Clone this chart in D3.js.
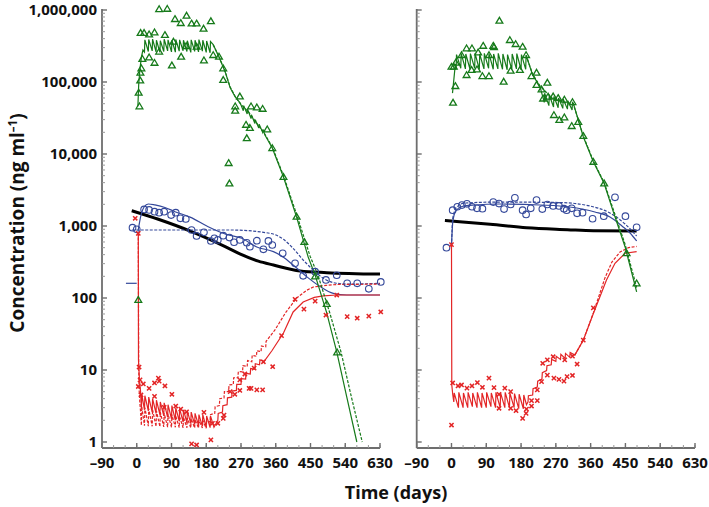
<!DOCTYPE html>
<html>
<head>
<meta charset="utf-8">
<title>Concentration vs time</title>
<script src="https://d3js.org/d3.v7.min.js"></script>
<style>
  body { margin:0; background:#fff; }
  svg text { font-family: "Open Sans", sans-serif; font-weight:700; fill:#111; }
  .axis-line { stroke:#6e6e6e; stroke-width:1.8px; }
  .tick-major { stroke:#6e6e6e; stroke-width:1.4px; }
  .tick-minor { stroke:#999; stroke-width:1px; }
  .fit { fill:none; stroke-width:1.2px; }
  .fit.dash { stroke-dasharray:3,1.5; }
  .green { stroke:#167a1a; }
  .blue { stroke:#34489a; }
  .red { stroke:#e32526; }
  .black { fill:none; stroke:#000; stroke-width:3px; }
</style>
</head>
<body>
<svg id="chart" width="709" height="507"></svg>
<script>

// ---- axis settings ----
const xTicks = [-90, 0, 90, 180, 270, 360, 450, 540, 630];
const yTicks = [1, 10, 100, 1000, 10000, 100000, 1000000];

// ---- LEFT panel : observed [day, ng/ml] ----
const leftGreenObs = [[4,94],[5,71000],[7,46000],[9,105000],[9.5,135000],[12,155000],[14.5,210000],
  [10,480000],[19,480000],[32,460000],[46,490000],[73,450000],[58,1030000],[79,1040000],[99,750000],
  [114,660000],[129,835000],[142,650000],[155,650000],[173,550000],[192,700000],[32,220000],[46,185000],
  [91,170000],[115,225000],[58,265000],[174,200000],[213,225000],[224,155000],[224,107000],[95,363000],
  [128,316000],[155,309000],[198,237000],[255,46000],[255,40000],[267,63000],[296,46000],[311,44500],
  [326,42500],[283,25500],[293,23000],[285,16600],[338,22000],[351,12100],[380,4800],[414,1350],
  [434,600],[462,200],[492,83],[519,17.6],[238,7500],[240,3900]];
const leftBlueObs = [[-11,947],[0,900],[19,1700],[32,1670],[46,1580],[58,1530],[71,1580],[89,1420],
  [101,1530],[113,1280],[127,1250],[142,880],[155,727],[174,817],[192,619],[201,675],[210,640],[224,735],
  [240,690],[252,595],[267,640],[285,585],[293,515],[311,625],[328,475],[341,620],[351,545],[378,418],
  [410,303],[431,203],[462,232],[490,178],[518,207],[545,160],[571,160],[601,134],[632,167]];
const leftRedObs = [[-4,1280],[4,790],[6,11],[4,5.9],[8.5,7.3],[17,6.4],[32,5.55],[46,6.6],[56,7.7],
  [58,7.0],[73,6.0],[91,4.6],[11,4.5],[46,4.3],[71,3.03],[101,3.16],[114,2.87],[129,2.63],[174,2.58],
  [142,0.94],[155,0.91],[192,1.07],[196,1.82],[210,1.82],[226,2.37],[224,2.13],[242,5.0],[254,4.6],
  [267,7.3],[267,5.2],[280,8.8],[291,5.55],[296,5.55],[311,5.3],[326,5.3],[304,10.6],[328,13],
  [352,11.1],[375,30],[410,96],[433,70],[462,90.5],[490,58],[518,110],[545,55],[571,52.4],[601,56],[632,64]];

// ---- LEFT panel : model curves ----
const leftGreenFit = [[3,46000],[5,91000],[8,147000],[12,222000],[16,278000],
  [20,260000],[21,385000],[30,265000],[31,390000],[40,270000],[41,395000],[50,262000],[51,380000],
  [60,258000],[61,375000],[70,265000],[71,392000],[80,270000],[81,385000],[90,262000],[91,380000],
  [100,260000],[101,390000],[110,268000],[111,385000],[120,272000],[121,380000],[130,265000],[131,375000],
  [140,258000],[141,385000],[150,266000],[151,380000],[160,262000],[161,388000],[170,268000],[171,380000],
  [180,258000],[181,372000],[190,255000],[191,365000],[198,330000],
  [213,222000],[229,138000],[242,83000],[255,62000],[268,51000],
  [276,40000],[277,47000],[286,36000],[287,42000],[296,31000],[297,35000],[306,26500],[307,30000],
  [316,23000],[317,26000],[326,20000],[327,22000],
  [332,18400],[351,12100],[380,4800],[414,1330],[444,371],[462,208],[492,62],[518,17.8],[544,4.2],[570,1.0]];
const leftGreenFit2 = [[198,330000],[213,225000],[229,140000],[242,85000],[255,63000],[268,50000],
  [290,38000],[310,27000],[332,18800],[351,12500],[380,5000],[414,1450],[449,380],[469,210],[500,62],
  [529,17.8],[556,4.2],[584,1.0]];
const leftBlueFit = [[3.4,853],[11,1420],[19,1835],[30,2020],[47,1960],[73,1810],[99,1580],[138,1330],
  [185,977],[229,774],[272,675],[311,511],[354,440],[379,371],[405,287],[440,198],[475,144],[509,116],
  [544,110],[630,110]];
const leftBlueFit2 = [[-13,880],[242,880],[345,792],[380,653],[405,490],[431,337],[457,245],[483,188],
  [518,160],[552,156],[630,160]];
const leftBlueMark = [[-28,160],[0,160]];
const leftBlack = [[-13,1630],[56,1240],[142,834],[229,516],[267,410],[315,325],[354,287],[423,237],
  [492,225],[630,215]];
const leftRedFit = [[4,800],[4.5,13.8],[7,7.3],[10,4.9],
  [12,2.9],[13,4.6],[20,2.8],[21,4.4],[30,2.7],[31,4.2],[40,2.6],[41,4.0],[50,2.5],[51,3.8],
  [60,2.4],[61,3.6],[70,2.3],[71,3.5],[80,2.2],[81,3.3],[90,2.1],[91,3.2],[100,2.0],[101,3.0],
  [110,1.95],[111,2.9],[120,1.9],[121,2.8],[130,1.85],[131,2.7],[140,1.8],[141,2.6],[150,1.75],[151,2.5],
  [160,1.7],[161,2.4],[170,1.65],[171,2.4],[180,1.6],[181,2.3],[190,1.58],[191,2.3],[200,1.6],
  [210,2.0],[211,2.5],[222,2.6],[223,3.2],[234,3.3],[235,4.1],[246,4.2],[247,5.1],[258,5.2],[259,6.3],
  [270,6.3],[271,7.6],[282,7.5],[283,9.0],[294,8.8],[295,10.5],[306,10.2],[307,12.2],[318,11.8],[319,13.8],
  [330,13.2],[350,18.5],[380,32.7],[405,64],[431,88],[460,102],[483,107],[518,110],[630,110]];
const leftRedFit2 = [[4,800],[5,12],[6,5.5],[8,3.5],[10,2.6],
  [12,1.7],[13,3.1],[20,1.68],[21,3.0],[30,1.66],[31,2.9],[40,1.65],[41,2.8],[50,1.64],[51,2.7],
  [60,1.63],[61,2.6],[70,1.62],[71,2.5],[80,1.61],[81,2.45],[90,1.6],[91,2.4],[100,1.6],[101,2.3],
  [110,1.59],[111,2.25],[120,1.58],[121,2.2],[130,1.58],[131,2.15],[140,1.57],[141,2.1],[150,1.57],[151,2.05],
  [160,1.56],[161,2.0],[170,1.56],[171,2.0],[180,1.55],[181,1.95],
  [190,1.9],[191,2.4],[202,2.5],[203,3.1],[214,3.2],[215,4.0],[226,4.1],[227,5.0],[238,5.0],[239,6.2],
  [250,6.3],[251,7.8],[262,7.8],[263,9.5],[274,9.4],[275,11.5],[286,11.2],[287,13.5],[298,13],[299,16],
  [310,15.5],[311,18.5],[322,18],[323,21.5],[334,21],[335,25],
  [358,36],[385,62],[414,100],[440,128],[457,142],[490,150],[518,154],[630,156]];

// ---- RIGHT panel : observed ----
const rightGreenObs = [[124,711000],[4,51600],[10,88000],[0,163000],[6,163000],[26,237000],[11,186000],
  [39,294000],[53,294000],[82,319000],[108,319000],[110,305000],[69,258000],[97,237000],[39,125000],
  [52,147000],[66,150000],[80,121000],[97,121000],[135,101000],[151,383000],[166,337000],[184,309000],
  [153,144000],[193,237000],[177,147000],[207,121000],[220,135000],[220,91000],[233,79000],[248,98000],
  [250,62500],[263,63000],[276,60000],[292,57000],[313,52700],[237,59000],[265,34800],[279,29700],
  [292,32300],[311,24500],[328,28000],[341,17800],[367,7800],[395,3900],[453,420],[479,160]];
const rightBlueObs = [[-13,500],[3,1660],[15,1850],[27,1950],[40,2030],[53,1850],[66,1760],[80,1740],
  [108,2150],[123,2050],[136,1720],[153,1990],[164,2460],[184,1660],[193,1450],[205,1760],[220,2290],
  [235,1720],[248,1990],[263,1900],[278,1900],[291,1740],[298,1660],[311,1760],[325,1500],[339,1530],
  [365,1260],[394,1370],[423,2500],[450,1370],[479,960]];
const rightRedObs = [[0,550],[3,6.6],[17,6.0],[26,6.2],[40,5.6],[0,1.72],[53,6.0],[67,6.7],[80,5.75],
  [97,7.7],[110,5.7],[123,4.6],[138,5.6],[153,5.0],[123,2.94],[153,2.94],[167,2.72],[184,2.13],[193,2.5],
  [194,2.87],[207,3.75],[207,3.16],[222,3.75],[222,5.3],[233,6.9],[236,12.4],[248,13.8],[248,8.5],
  [263,15.3],[265,7.7],[278,7.4],[291,7.0],[299,8.1],[313,8.4],[325,12.1],[341,26],[367,73],[293,13.8],[313,15.6]];

// ---- RIGHT panel : model curves ----
const rightGreenFit = [[2.6,70000],[6,107000],[10,178000],
  [12,150000],[13,240000],[24,155000],[25,250000],[36,152000],[37,245000],[48,150000],[49,248000],
  [60,155000],[61,250000],[72,150000],[73,245000],[84,152000],[85,250000],[96,155000],[97,248000],
  [108,150000],[109,245000],[120,152000],[121,250000],[132,150000],[133,245000],[144,148000],[145,240000],
  [156,150000],[157,245000],[168,152000],[169,248000],[180,148000],[181,240000],[192,150000],[193,235000],
  [210,125000],[229,86000],
  [240,52000],[241,70000],[252,47000],[253,66000],[264,45000],[265,63000],[276,44000],[277,60000],
  [288,43000],[289,58000],[300,42000],[301,55000],[312,41000],[313,52000],[315,51000],
  [341,17400],[367,7800],[395,3900],[420,1500],[449,516],[479,122]];
const rightGreenFit2 = [[193,235000],[210,128000],[229,88000],[260,60000],[290,52000],[315,50000],
  [341,17800],[367,8000],[395,4000],[449,560],[479,140]];
const rightBlueFit = [[0,527],[3.4,1136],[11,1617],[27,1866],[60,1958],[125,2020],[229,1958],[306,1835],
  [371,1565],[410,1333],[441,1000],[462,800],[479,619]];
const rightBlueFit2 = [[0,527],[3.4,1290],[14,1835],[34,2085],[125,2150],[280,2120],[358,1895],
  [410,1516],[449,1066],[479,727]];
const rightBlack = [[-17,1190],[21,1150],[100,1060],[194,947],[300,890],[367,860],[479,855]];
const rightRedFit = [[0,545],[0.8,6.2],[3.4,4.5],
  [6,3.6],[7,4.8],[18,3.0],[19,4.9],[30,3.0],[31,4.8],[42,3.0],[43,4.9],[54,3.1],[55,4.8],
  [66,3.0],[67,4.9],[78,3.0],[79,4.8],[90,3.0],[91,4.9],[102,3.1],[103,4.8],[114,3.0],[115,4.9],
  [126,3.0],[127,4.8],[138,3.0],[139,4.9],[150,3.0],[151,4.8],[162,3.0],[163,4.7],[174,2.9],[175,4.6],
  [186,2.9],[187,4.5],[194,3.3],
  [198,3.6],[199,4.4],[210,4.5],[211,5.5],[222,5.8],[223,7.0],[234,7.5],[235,9.2],[246,9.8],[247,11.5],
  [258,11.8],[259,14],[270,13.2],[271,15.5],[282,14],[283,16.5],[294,14.5],[295,17],[306,15],[307,17.5],
  [319,16.1],[341,26],[367,61],[401,178],[423,303],[449,418],[479,440]];
const rightRedFit2 = [[319,16.1],[341,26],[367,62],[397,190],[415,316],[436,435],[458,500],[479,520]];

// ---- layout ----
const svg = d3.select("#chart");
const yTop = 10, yBottom = 442, axisY = 448;
const y = d3.scaleLog().domain([1, 1e6]).range([yBottom, yTop]);

// smooth curves use monotone interpolation, dosing zig-zags stay linear
const panels = [
  { left: 102, right: 380, labels: true,
    green: leftGreenObs, blue: leftBlueObs, red: leftRedObs,
    lines: [[leftBlack,"black",true],[leftBlueFit,"fit blue",true],[leftBlueFit2,"fit dash blue",true],[leftBlueMark,"fit blue",false],
            [leftRedFit,"fit red",false],[leftRedFit2,"fit dash red",false],[leftGreenFit,"fit green",false],[leftGreenFit2,"fit dash green",false]] },
  { left: 416.7, right: 695, labels: false,
    green: rightGreenObs, blue: rightBlueObs, red: rightRedObs,
    lines: [[rightBlack,"black",true],[rightBlueFit,"fit blue",true],[rightBlueFit2,"fit dash blue",true],
            [rightRedFit,"fit red",false],[rightRedFit2,"fit dash red",false],[rightGreenFit,"fit green",false],[rightGreenFit2,"fit dash green",false]] }
];

// minor tick positions: 2..9 of each decade, and every 30 days
const yMinor = [];
for (let e = 0; e < 6; e++) for (let k = 2; k < 10; k++) yMinor.push(k * Math.pow(10, e));
const xMinor = d3.range(-90, 631, 30);

const tri = "M0,-3.3L3.4,2.5L-3.4,2.5Z";
const cross = "M-2.1,-2.1L2.1,2.1M2.1,-2.1L-2.1,2.1";

panels.forEach(p => {
  const x = d3.scaleLinear().domain([-90, 630]).range([p.left, p.right]);
  const g = svg.append("g");

  // axes lines
  g.append("line").attr("class","axis-line").attr("x1",p.left).attr("x2",p.left).attr("y1",yTop-1).attr("y2",axisY);
  g.append("line").attr("class","axis-line").attr("x1",p.left).attr("x2",p.right).attr("y1",axisY).attr("y2",axisY);

  // y ticks (pointing inward)
  g.selectAll("line.ymin").data(yMinor).join("line").attr("class","tick-minor")
    .attr("x1",p.left).attr("x2",p.left+3).attr("y1",d=>y(d)).attr("y2",d=>y(d));
  g.selectAll("line.ymaj").data(yTicks).join("line").attr("class","tick-major")
    .attr("x1",p.left).attr("x2",p.left+5).attr("y1",d=>y(d)).attr("y2",d=>y(d));
  if (p.labels) {
    g.selectAll("text.ylab").data(yTicks).join("text").attr("class","ylab")
      .attr("x", p.left-5).attr("y", d=>y(d)).attr("dy","0.36em")
      .attr("text-anchor","end").style("font-size","15px")
      .text(d3.format(","));
  }

  // x ticks
  g.selectAll("line.xmin").data(xMinor).join("line").attr("class","tick-minor")
    .attr("x1",d=>x(d)).attr("x2",d=>x(d)).attr("y1",axisY).attr("y2",axisY-3);
  g.selectAll("line.xmaj").data(xTicks).join("line").attr("class","tick-major")
    .attr("x1",d=>x(d)).attr("x2",d=>x(d)).attr("y1",axisY).attr("y2",axisY-5);
  g.selectAll("text.xlab").data(xTicks).join("text")
    .attr("x", d=>x(d)).attr("y", 468).attr("text-anchor","middle").style("font-size","15px")
    .text(d => d < 0 ? "\u2013" + Math.abs(d) : d);

  // model curves
  p.lines.forEach(([data, cls, smooth]) => {
    const line = d3.line().x(d=>x(d[0])).y(d=>y(d[1]))
      .curve(smooth ? d3.curveMonotoneX : d3.curveLinear);
    g.append("path").datum(data).attr("class", cls).attr("d", line);
  });

  // observations
  g.selectAll("circle.obs").data(p.blue).join("circle")
    .attr("cx",d=>x(d[0])).attr("cy",d=>y(d[1])).attr("r",3.3)
    .attr("fill","none").attr("stroke","#34489a").attr("stroke-width",1.1);
  g.selectAll("path.xo").data(p.red).join("path")
    .attr("d",cross).attr("transform",d=>`translate(${x(d[0])},${y(d[1])})`)
    .attr("fill","none").attr("stroke","#e32526").attr("stroke-width",1.5);
  g.selectAll("path.tri").data(p.green).join("path")
    .attr("d",tri).attr("transform",d=>`translate(${x(d[0])},${y(d[1])})`)
    .attr("fill","none").attr("stroke","#167a1a").attr("stroke-width",1.3);
});

// axis titles
const yl = svg.append("text").attr("transform","translate(24,223) rotate(-90)")
  .attr("text-anchor","middle").style("font-size","19px");
yl.append("tspan").text("Concentration (ng ml");
yl.append("tspan").text("\u20131").attr("dy",-7).style("font-size","11.5px");
yl.append("tspan").text(")").attr("dy",7);

svg.append("text").attr("x",396).attr("y",499).attr("text-anchor","middle")
  .style("font-size","18px").text("Time (days)");

</script>
</body>
</html>
